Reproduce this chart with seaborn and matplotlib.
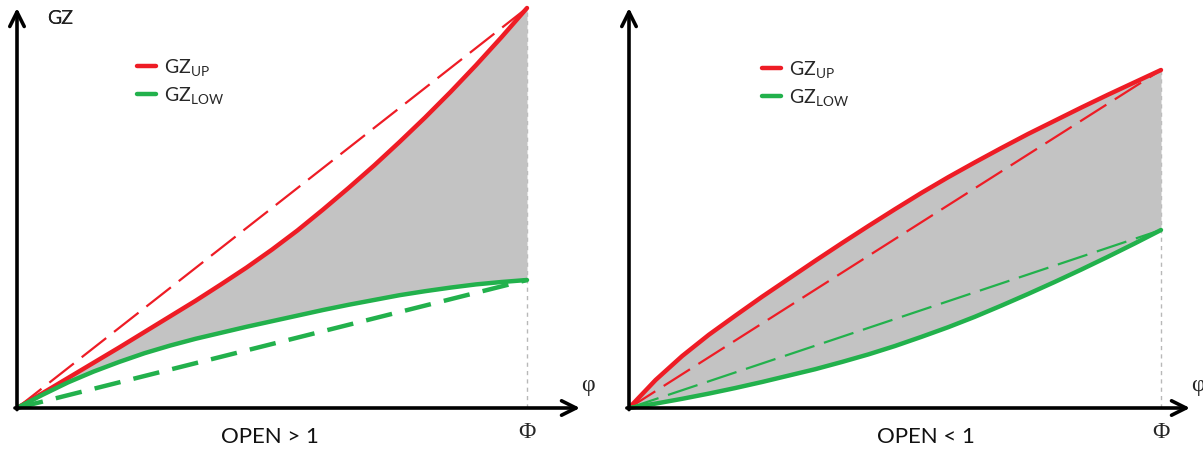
import matplotlib
matplotlib.use("Agg")
import matplotlib.pyplot as plt
import seaborn as sns
import numpy as np

# curves (phi normalised so that Phi = 1)
phi = [0.0, 0.05, 0.1, 0.15, 0.2, 0.25, 0.3, 0.35, 0.4, 0.45, 0.5,
       0.55, 0.6, 0.65, 0.7, 0.75, 0.8, 0.85, 0.9, 0.95, 1.0]

# OPEN > 1
gz_up_a = [0.0, 0.037, 0.075, 0.113, 0.151, 0.190, 0.229, 0.268, 0.309, 0.351, 0.396,
           0.444, 0.496, 0.550, 0.606, 0.665, 0.726, 0.790, 0.857, 0.927, 1.0]
gz_low_a = [0.0, 0.033, 0.064, 0.091, 0.115, 0.137, 0.156, 0.173, 0.188, 0.203, 0.217,
            0.231, 0.245, 0.258, 0.270, 0.282, 0.292, 0.301, 0.309, 0.315, 0.320]

# OPEN < 1
gz_up_b = [0.0, 0.070, 0.130, 0.183, 0.231, 0.278, 0.323, 0.368, 0.412, 0.455, 0.497,
           0.538, 0.577, 0.614, 0.650, 0.685, 0.718, 0.751, 0.783, 0.814, 0.845]
gz_low_b = [0.0, 0.011, 0.023, 0.036, 0.050, 0.065, 0.081, 0.097, 0.115, 0.134, 0.155,
            0.178, 0.202, 0.228, 0.256, 0.285, 0.315, 0.346, 0.378, 0.411, 0.445]

titles = ["OPEN > 1", "OPEN < 1"]

RED = "#ee1c25"
GREEN = "#22b14c"
GREY = "#c3c3c3"

sns.set_theme(style="white")
plt.rcParams['font.family'] = ['Lato', 'DejaVu Sans']
plt.rcParams['mathtext.fontset'] = 'custom'
plt.rcParams['mathtext.rm'] = 'Lato'
plt.rcParams['mathtext.it'] = 'Lato'

fig = plt.figure(figsize=(12.03, 4.5), dpi=100)

# pixel layout of each panel
panels = [
    # left px, right px, origin px, Phi px, x-arrow end px, up, low,
    # green dash lw, legend x px, legend top px, title centre px
    (0, 600, 17, 527, 580, gz_up_a, gz_low_a, 3.2, 137, 57, 270),
    (600, 1203, 629, 1161, 1190, gz_up_b, gz_low_b, 1.6, 762, 59, 926),
]
W, H = 1203.0, 450.0
y0_px, y1_px = 408.0, 8.0
ys = (y0_px - y1_px)

for i, (l, r, ox, px_phi, xend, up, low, glw, legx, legy, tx) in enumerate(panels):
    ax = fig.add_axes([l / W, 0, (r - l) / W, 1])
    sx = px_phi - ox
    ax.set_xlim((l - ox) / sx, (r - ox) / sx)
    ax.set_ylim((y0_px - H) / ys, y0_px / ys)
    ax.axis("off")

    ax.fill_between(phi, low, up, color=GREY, lw=0, zorder=1)

    # straight chords
    sns.lineplot(x=[phi[0], phi[-1]], y=[up[0], up[-1]], ax=ax, color=RED,
                 lw=1.6, linestyle=(0, (14, 4.5)), zorder=2)
    if glw > 2:
        gdash = (0, (6, 3))
    else:
        gdash = (0, (14, 4.5))
    sns.lineplot(x=[phi[0], phi[-1]], y=[low[0], low[-1]], ax=ax, color=GREEN,
                 lw=glw, linestyle=gdash, zorder=2)

    sns.lineplot(x=phi, y=up, ax=ax, color=RED, lw=3.2, label=r"$\mathrm{GZ}_{\mathrm{UP}}$",
                 zorder=3)
    sns.lineplot(x=phi, y=low, ax=ax, color=GREEN, lw=3.2, label=r"$\mathrm{GZ}_{\mathrm{LOW}}$",
                 zorder=3)

    # dotted line down from Phi
    ax.plot([1.0, 1.0], [0, up[-1]], color="#b8b8b8", lw=1, ls=(0, (3, 3)), zorder=0)

    # axes arrows
    xmax = (xend - ox) / sx
    ymax = (y0_px - 8) / ys
    arrow = dict(arrowstyle="->", lw=2.6, color="black", mutation_scale=26,
                 shrinkA=0, shrinkB=0)
    ax.annotate("", xy=(xmax, 0), xytext=(-0.004, 0), arrowprops=arrow)
    ax.annotate("", xy=(0, ymax), xytext=(0, -0.004), arrowprops=arrow)

    ax.text((47 - ox) / sx, (y0_px - 18) / ys, "GZ", fontsize=14,
            ha="left", va="center", color="#222222")
    ax.text((tx - ox) / sx, (y0_px - 437) / ys, titles[i],
            fontsize=16, ha="center", va="center", color="#111111")
    ax.text(1.0, (y0_px - 432) / ys, "Φ", fontsize=17, family="Liberation Serif",
            ha="center", va="center")
    ax.text((xend + 8 - ox) / sx, (y0_px - 386) / ys, "φ", fontsize=17,
            family="Liberation Serif", ha="center", va="center")

    ax.legend(loc="upper left", bbox_to_anchor=((legx - ox) / sx, (y0_px - legy) / ys),
              bbox_transform=ax.transData, frameon=False, fontsize=14,
              handlelength=1.0, handletextpad=0.4, borderpad=0,
              borderaxespad=0, labelspacing=0.35)

fig.savefig("out.png", dpi=100)
